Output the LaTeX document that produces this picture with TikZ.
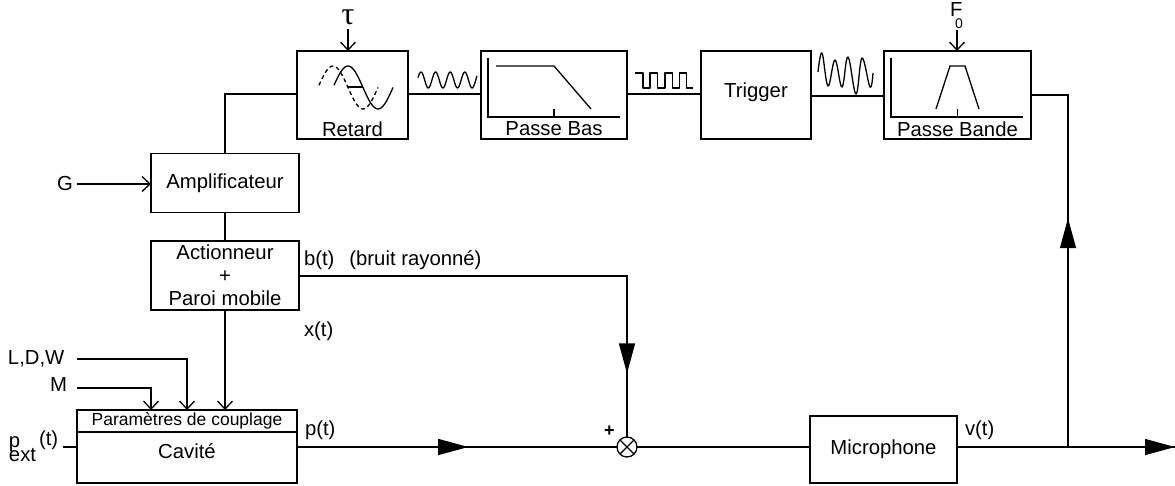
\documentclass[tikz,border=0pt]{standalone}
\usepackage{fontspec}
\setmainfont{Liberation Sans}
\newfontfamily\serifgreek{Liberation Serif}
\usetikzlibrary{arrows.meta,decorations.markings,positioning}
\newcommand{\txtfont}{\fontsize{20.3}{23}\selectfont}
\tikzset{
  line width=1.3pt,
  wire/.style={draw=black,line width=1.3pt},
  barb/.style={wire,-{Straight Barb[length=8pt,width=15pt,line width=1.3pt]}},
  boxn/.style={draw=black,line width=1.3pt,minimum width=#1,inner sep=0pt,outer sep=0pt,align=center},
  lab/.style={inner sep=0pt,outer sep=0pt,font=\txtfont,anchor=base west},
  bigtip/.style={postaction={decorate,decoration={markings,mark=at position #1 with {\arrow{Triangle[length=30pt,width=16pt]}}}}},
  thin curve/.style={draw=black,line width=1.3pt,line join=round},
  dashcurve/.style={thin curve,dash pattern=on 4pt off 3pt},
  sumn/.style={circle,draw=black,line width=1.3pt,minimum size=20pt,inner sep=0pt,outer sep=0pt,
    path picture={\draw[line width=1.3pt] (path picture bounding box.north west)--(path picture bounding box.south east)
      (path picture bounding box.north east)--(path picture bounding box.south west);}}
}
\begin{document}
\begin{tikzpicture}[x=1pt,y=-1pt,font=\txtfont]
\useasboundingbox (0,0) rectangle (1175,486);
% boxes
\node[boxn=111pt,minimum height=88pt] (ret) at (352.5,95) {};
\node[boxn=146pt,minimum height=88pt] (pb) at (554,95) {};
\node[boxn=110pt,minimum height=88pt] (trig) at (756,95) {};
\node[boxn=147pt,minimum height=88pt] (pbd) at (957.5,95) {};
\node[boxn=148pt,minimum height=59pt] (amp) at (225,183) {Amplificateur};
\node[boxn=148pt,minimum height=69pt] (act) at (225,275.5) {\txtfont\baselineskip=21pt Actionneur\\+\\Paroi mobile};
\node[boxn=220pt,minimum height=22pt,font=\fontsize{17.5}{20}\selectfont] (par) at (187,421) {Paramètres de couplage};
\node[boxn=220pt,minimum height=51pt] (cav) at (187,457.5) {};
\node[inner sep=0pt] (cavt) at (187,451) {Cavité};
\node[boxn=147pt,minimum height=67pt] (mic) at (883.5,449.5) {Microphone};
\node[sumn] (sum) at (627,447) {};
\node[inner sep=0pt] (rett) at (352.5,129) {Retard};
\node[inner sep=0pt] (pbt) at (554,129) {Passe Bas};
\node[inner sep=0pt] (trigt) at (756,92) {Trigger};
\node[inner sep=0pt] (pbdt) at (957.5,129) {Passe Bande};
% labels
\node[inner sep=0pt,font=\fontsize{32}{32}\selectfont\serifgreek] (tau) at (348,17) {τ};
\node[lab] (f0) at (950,17) {F};
\node[lab,font=\fontsize{14}{14}\selectfont] (f0s) at (955,29) {0};
\node[lab] (g) at (57,191) {G};
\node[lab] (ldw) at (8,364) {L,D,W};
\node[lab] (m) at (50,391) {M};
\node[lab] (pe) at (9,447) {p};
\node[lab] (pes) at (9,461) {ext};
\node[lab] (pet) at (39,445) {(t)};
\node[lab] (bt) at (304,266) {b(t)\hspace{15pt}(bruit rayonné)};
\node[lab] (xt) at (304,336) {x(t)};
\node[lab] (pt) at (305,435) {p(t)};
\node[lab] (vt) at (965,435) {v(t)};
\node[lab,font=\fontsize{18}{18}\selectfont\bfseries] (plus) at (604,436) {+};
% free ends
\coordinate (ldwe) at (77,359);
\coordinate (me) at (77,388);
\coordinate (pee) at (63,447);
\coordinate (ge) at (77,184);
\coordinate (endr) at (1175,447);
\coordinate (tap) at (1068,447);
\coordinate (tope) at (1068,95);
\coordinate (f0e) at (957,30);
\coordinate (taue) at (348,29);
\coordinate (lft) at (225,94);
\coordinate (corb) at (627,276);
% connectors
\draw[wire] (amp.north -| lft) -- (lft) -- (ret.west |- lft);
\draw[wire] (ret.east |- lft) -- (pb.west |- lft);
\draw[wire] (pb.east |- lft) -- (trig.west |- lft);
\draw[wire] (trig.east |- 0,96) -- (pbd.west |- 0,96);
\draw[wire] (pbd.east |- tope) -- (tope) -- (tap);
\draw[bigtip=0.65,wire] (tap) -- (tope);
\draw[wire] (amp.south) -- (act.north);
\draw[barb] (act.south) -- (par.north -| act.south);
\draw[barb] (ge) -- (amp.west |- ge);
\draw[barb] (taue) -- (ret.north -| taue);
\draw[barb] (f0e) -- (pbd.north -| f0e);
\draw[barb] (ldwe) -- (187,359) -- (187,410);
\draw[barb] (me) -- (151,388) -- (151,410);
\draw[wire] (pee) -- (cav.west |- pee);
\draw[wire,bigtip=0.535] (cav.east |- sum) -- (sum.west);
\draw[wire,bigtip=0.87] (act.east |- corb) -- (corb) -- (sum.north);
\draw[wire] (sum.east) -- (mic.west |- sum);
\draw[wire,bigtip=1] (mic.east |- sum) -- (endr);
% retard icon
\draw[thin curve,smooth] plot[domain=334:393,samples=40] (\x,{87.5-21.5*cos(deg((\x-348)*3.14159/30))});
\draw[dashcurve] plot[domain=319:378,samples=40] (\x,{87.5-21.5*cos(deg((\x-333)*3.14159/30))});
\draw[wire] (348,87) -- (363,87);
% wave 1
\draw[thin curve] plot[domain=418:477,samples=80] (\x,{80-8*cos(deg((\x-421)*2*3.14159/14.6))});
% square wave
\draw[thin curve] (635,73) -- (643,73) -- (643,88) -- (650,88) -- (650,73) -- (657.5,73) -- (657.5,88) -- (665,88) -- (665,73) -- (672.5,73) -- (672.5,88) -- (679.5,88) -- (679.5,73) -- (686.5,73) -- (686.5,88) -- (693,88);
% trigger wave
\draw[thin curve] plot[smooth,tension=0.65] coordinates {(818,72) (822,53) (828,86) (835,60) (842,87) (848,57) (856,94) (862,58) (870,87) (873,73)};
% low pass
\draw[wire] (488,58) -- (488,117) -- (620,117);
\draw[wire] (496,66) -- (554,66) -- (591,109);
\draw[wire] (554,109) -- (554,117);
% band pass
\draw[wire] (891,58) -- (891,117) -- (1023,117);
\draw[wire] (936,109) -- (950,66) -- (965,66) -- (979,109);
\draw[wire] (957.5,109) -- (957.5,117);
\end{tikzpicture}
\end{document}
